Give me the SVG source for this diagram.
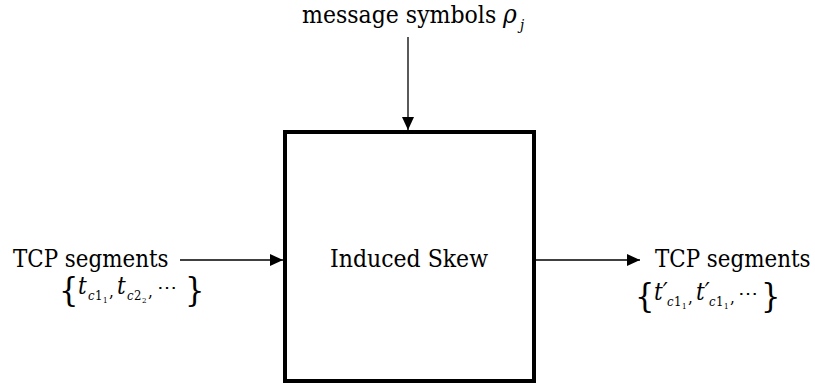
<svg xmlns="http://www.w3.org/2000/svg" width="815" height="390" viewBox="0 0 815 390" font-family="DejaVu Serif Condensed, DejaVu Serif, serif">
<style>
text{fill:#000;font-family:"DejaVu Serif Condensed","DejaVu Serif",serif}
.lbl{font-size:24.5px}
.tcp{font-size:23.8px}
.it{font-style:italic}
.br{font-size:34px}
.conn{stroke:#000;stroke-width:1.3;fill:none}
</style>
<defs>
<marker id="ah" markerUnits="userSpaceOnUse" markerWidth="14" markerHeight="12" refX="13" refY="6" orient="auto">
<path d="M0,0 L13,6 L0,12 Z" fill="#000"/>
</marker>
</defs>
<rect width="815" height="390" fill="#fff"/>
<g id="connectors">
<line class="conn" x1="408" y1="37" x2="408" y2="130" marker-end="url(#ah)"/>
<line class="conn" x1="180" y1="260" x2="283" y2="260" marker-end="url(#ah)"/>
<line class="conn" x1="536" y1="260" x2="640" y2="260" marker-end="url(#ah)"/>
</g>
<g id="skew">
<rect x="285" y="132" width="249" height="249" fill="#fff" stroke="#000" stroke-width="4"/>
<text class="lbl" x="409" y="267" text-anchor="middle">Induced Skew</text>
</g>
<g id="msg">
<text class="lbl" x="302" y="23">message symbols</text>
<text class="it" x="503" y="23" font-size="26">ρ</text>
<text class="it" x="520" y="30" font-size="15">j</text>
</g>
<g id="in">
<text class="tcp" x="13" y="267">TCP segments</text>
<text class="br" x="59" y="301">{</text>
<text x="78" y="294" font-size="24" class="it">t</text>
<text x="88" y="300" font-size="13" class="it">c</text>
<text x="95" y="300" font-size="13">1</text>
<text x="103" y="303" font-size="8">1</text>
<text x="109" y="297" font-size="17">,</text>
<text x="117" y="294" font-size="24" class="it">t</text>
<text x="127" y="300" font-size="13" class="it">c</text>
<text x="134" y="300" font-size="13">2</text>
<text x="142" y="303" font-size="8">2</text>
<text x="148" y="297" font-size="17">,</text>
<text x="157" y="294" font-size="20">⋯</text>
<text class="br" x="185" y="301">}</text>
</g>
<g id="out">
<text class="tcp" x="655" y="267">TCP segments</text>
<text class="br" x="635" y="307">{</text>
<text x="654" y="300" font-size="24" class="it">t′</text>
<text x="667" y="306" font-size="13" class="it">c</text>
<text x="674" y="306" font-size="13">1</text>
<text x="682" y="309" font-size="8">1</text>
<text x="688" y="303" font-size="17">,</text>
<text x="696" y="300" font-size="24" class="it">t′</text>
<text x="709" y="306" font-size="13" class="it">c</text>
<text x="716" y="306" font-size="13">1</text>
<text x="724" y="309" font-size="8">1</text>
<text x="730" y="303" font-size="17">,</text>
<text x="738" y="300" font-size="20">⋯</text>
<text class="br" x="761" y="307">}</text>
</g>
</svg>
